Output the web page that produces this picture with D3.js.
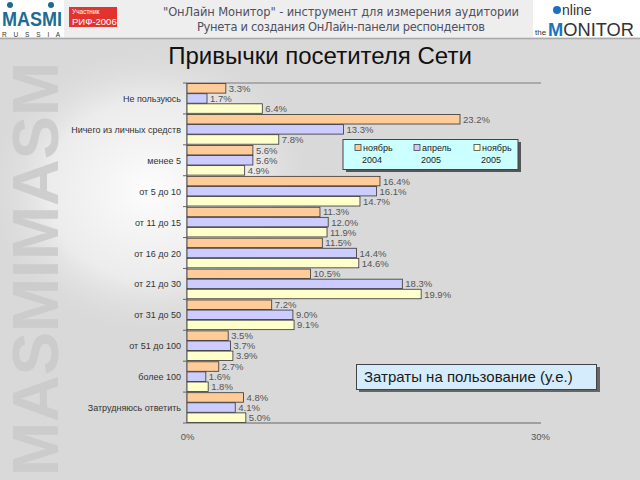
<!DOCTYPE html>
<html><head><meta charset="utf-8">
<script src="https://cdn.jsdelivr.net/npm/d3@7"></script>
<style>html,body{margin:0;padding:0;background:#d9d9d9;}svg{display:block;}</style>
</head><body>
<script>
const categories = ["Не пользуюсь","Ничего из личных средств","менее 5","от 5 до 10","от 11 до 15","от 16 до 20","от 21 до 30","от 31 до 50","от 51 до 100","более 100","Затрудняюсь ответить"];
const seriesNames = ["ноябрь 2004","апрель 2005","ноябрь 2005"];
const nov2004 = [3.3,23.2,5.6,16.4,11.3,11.5,10.5,7.2,3.5,2.7,4.8];
const apr2005 = [1.7,13.3,5.6,16.1,12.0,14.4,18.3,9.0,3.7,1.6,4.1];
const nov2005 = [6.4,7.8,4.9,14.7,11.9,14.6,19.9,9.1,3.9,1.8,5.0];
const seriesValues = [nov2004, apr2005, nov2005];
const xTicks = [0, 30];
const colors = ["#FFCC99","#CCCCFF","#FFFFCC"];

const W = 640, H = 480;
const FONT = "Liberation Sans, Arial, sans-serif";
const svg = d3.select("body").append("svg").attr("width", W).attr("height", H);
const defs = svg.append("defs");
const rg = defs.append("radialGradient").attr("id","blob").attr("cx","0.5").attr("cy","0.5").attr("r","0.5");
rg.append("stop").attr("offset","0%").attr("stop-color","#ffffff").attr("stop-opacity",0.95);
rg.append("stop").attr("offset","60%").attr("stop-color","#f4f4f4").attr("stop-opacity",0.7);
rg.append("stop").attr("offset","100%").attr("stop-color","#d9d9d9").attr("stop-opacity",0);

// background
svg.append("rect").attr("width",W).attr("height",H).attr("fill","#d9d9d9");
svg.append("ellipse").attr("cx",150).attr("cy",190).attr("rx",170).attr("ry",150).attr("fill","url(#blob)");
// watermark
svg.append("text").attr("transform","translate(58,476) rotate(-90)")
  .attr("font-family",FONT).attr("font-weight","bold")
  .attr("font-size",64).attr("fill","#c9c9c9").attr("fill-opacity",0.85)
  .attr("textLength",414).attr("lengthAdjust","spacingAndGlyphs").text("MASMIMASM");

// header
svg.append("rect").attr("x",0).attr("y",0).attr("width",W).attr("height",38).attr("fill","#eeeeee");
svg.append("line").attr("x1",0).attr("x2",W).attr("y1",38.5).attr("y2",38.5).attr("stroke","#a8a8a8").attr("stroke-width",1.5);
// MASMI logo
svg.append("rect").attr("x",0).attr("y",0).attr("width",64).attr("height",37).attr("fill","#ffffff");
svg.append("text").attr("x",2).attr("y",26).attr("font-family",FONT).attr("font-weight","bold")
  .attr("font-size",20).attr("fill","#1c6b92").attr("textLength",60).attr("lengthAdjust","spacingAndGlyphs").text("MASMI");
svg.append("circle").attr("cx",10).attr("cy",5).attr("r",3).attr("fill","#1c6b92");
svg.append("circle").attr("cx",51).attr("cy",5).attr("r",3).attr("fill","#1c6b92");
svg.append("text").attr("x",2).attr("y",36.5).attr("font-family",FONT)
  .attr("font-size",6.5).attr("fill","#333").attr("textLength",58).text("R U S S I A");
// RIF badge
svg.append("rect").attr("x",69).attr("y",7).attr("width",48).attr("height",20).attr("fill","#e2332f");
svg.append("text").attr("x",72).attr("y",14).attr("font-family",FONT).attr("font-size",6.5).attr("fill","#fff").text("Участник");
svg.append("text").attr("x",72).attr("y",25).attr("font-family",FONT).attr("font-size",9.5).attr("fill","#fff").text("РИФ-2006");
// header text
svg.append("text").attr("x",341).attr("y",16).attr("text-anchor","middle").attr("font-family","DejaVu Sans, sans-serif")
  .attr("font-size",11.5).attr("fill","#50505e").attr("textLength",356).text("\"ОнЛайн Монитор\" - инструмент для измерения аудитории");
svg.append("text").attr("x",341).attr("y",31).attr("text-anchor","middle").attr("font-family","DejaVu Sans, sans-serif")
  .attr("font-size",11.5).attr("fill","#50505e").attr("textLength",288).text("Рунета и создания ОнЛайн-панели респондентов");
// online monitor logo
svg.append("rect").attr("x",533).attr("y",0).attr("width",107).attr("height",37).attr("fill","#ffffff");
svg.append("circle").attr("cx",557).attr("cy",10).attr("r",4).attr("fill","#1b72c0");
svg.append("text").attr("x",562).attr("y",15).attr("font-family",FONT).attr("font-size",14).attr("fill","#333").text("nline");
svg.append("text").attr("x",535).attr("y",35).attr("font-family",FONT).attr("font-size",8).attr("fill","#333").text("the");
svg.append("text").attr("x",548).attr("y",36).attr("font-family",FONT).attr("font-size",19)
  .attr("fill","#333").attr("textLength",86).attr("lengthAdjust","spacingAndGlyphs")
  .call(t => { t.append("tspan").attr("fill","#1b72c0").attr("font-weight","bold").text("M"); t.append("tspan").text("ONITOR"); });

// title
svg.append("text").attr("x",320).attr("y",64).attr("text-anchor","middle").attr("font-family",FONT)
  .attr("font-size",24).attr("fill","#111").text("Привычки посетителя Сети");

// chart
const x0 = 187, x1 = 540, yTop = 83, yBot = 423;
const x = d3.scaleLinear().domain([0,30]).range([x0,x1]);
const y = d3.scaleBand().domain(categories).range([yTop,yBot]).paddingInner(0.04).paddingOuter(0.02);
const yi = d3.scaleBand().domain(seriesNames).range([0,y.bandwidth()]).paddingInner(0.06);

const g = svg.append("g");
g.append("line").attr("x1",x0).attr("x2",x1+1).attr("y1",yTop).attr("y2",yTop).attr("stroke","#9a9a9a").attr("stroke-width",1.5);
g.append("line").attr("x1",x0).attr("x2",x1+1).attr("y1",yBot).attr("y2",yBot).attr("stroke","#666").attr("stroke-width",1.2);
g.append("line").attr("x1",x0).attr("x2",x0).attr("y1",yTop).attr("y2",yBot).attr("stroke","#777").attr("stroke-width",1);
// category ticks
g.selectAll(".ct").data(d3.range(categories.length+1)).join("line")
  .attr("x1",x0-4).attr("x2",x0).attr("y1",i=>yTop+i*(yBot-yTop)/categories.length).attr("y2",i=>yTop+i*(yBot-yTop)/categories.length)
  .attr("stroke","#666");

categories.forEach((c,ci) => {
  seriesNames.forEach((s,si) => {
    const v = seriesValues[si][ci];
    const yy = y(c) + yi(s);
    g.append("rect").attr("x",x(0)).attr("y",yy).attr("width",x(v)-x(0)).attr("height",yi.bandwidth())
      .attr("fill",colors[si]).attr("stroke","#333").attr("stroke-width",0.8);
    g.append("text").attr("x",x(v)+3).attr("y",yy+yi.bandwidth()/2+3.5)
      .attr("font-family",FONT).attr("font-size",9.5).attr("fill","#555")
      .text(v.toFixed(1)+"%");
  });
  g.append("text").attr("x",181).attr("y",y(c)+y.bandwidth()/2+3.5).attr("text-anchor","end")
    .attr("font-family",FONT).attr("font-size",9).attr("fill","#333").text(c);
});

// x axis labels
const ax = svg.append("g").attr("transform",`translate(0,${yBot})`)
  .call(d3.axisBottom(x).tickValues(xTicks).tickFormat(d=>d+"%").tickSize(0).tickPadding(10));
ax.select(".domain").remove();
ax.selectAll("text").attr("font-family",FONT).attr("font-size",9.5).attr("fill","#555");

// legend
const lg = svg.append("g");
lg.append("rect").attr("x",346).attr("y",142).attr("width",175).attr("height",30).attr("fill","#555");
lg.append("rect").attr("x",343).attr("y",139.5).attr("width",175).attr("height",30).attr("fill","#ccffff").attr("stroke","#444").attr("stroke-width",1);
const legX = [355, 414, 474];
seriesNames.forEach((s,i) => {
  const parts = s.split(" ");
  lg.append("rect").attr("x",legX[i]).attr("y",144.5).attr("width",6).attr("height",6).attr("fill",colors[i]).attr("stroke","#444").attr("stroke-width",0.8);
  lg.append("text").attr("x",legX[i]+8).attr("y",151).attr("font-family",FONT).attr("font-size",9).attr("fill","#222").text(parts[0]);
  lg.append("text").attr("x",legX[i]+17).attr("y",163).attr("text-anchor","middle").attr("font-family",FONT).attr("font-size",9).attr("fill","#222").text(parts[1]);
});

// annotation
const an = svg.append("g");
an.append("rect").attr("x",359).attr("y",367).attr("width",241).attr("height",25).attr("fill","#666");
an.append("rect").attr("x",356.5).attr("y",364.5).attr("width",240).attr("height",25).attr("fill","#d4ecfc").attr("stroke","#444").attr("stroke-width",1);
an.append("text").attr("x",364).attr("y",382).attr("font-family",FONT).attr("font-size",15).attr("fill","#1a1a1a").text("Затраты на пользование (у.е.)");
</script>
</body></html>
